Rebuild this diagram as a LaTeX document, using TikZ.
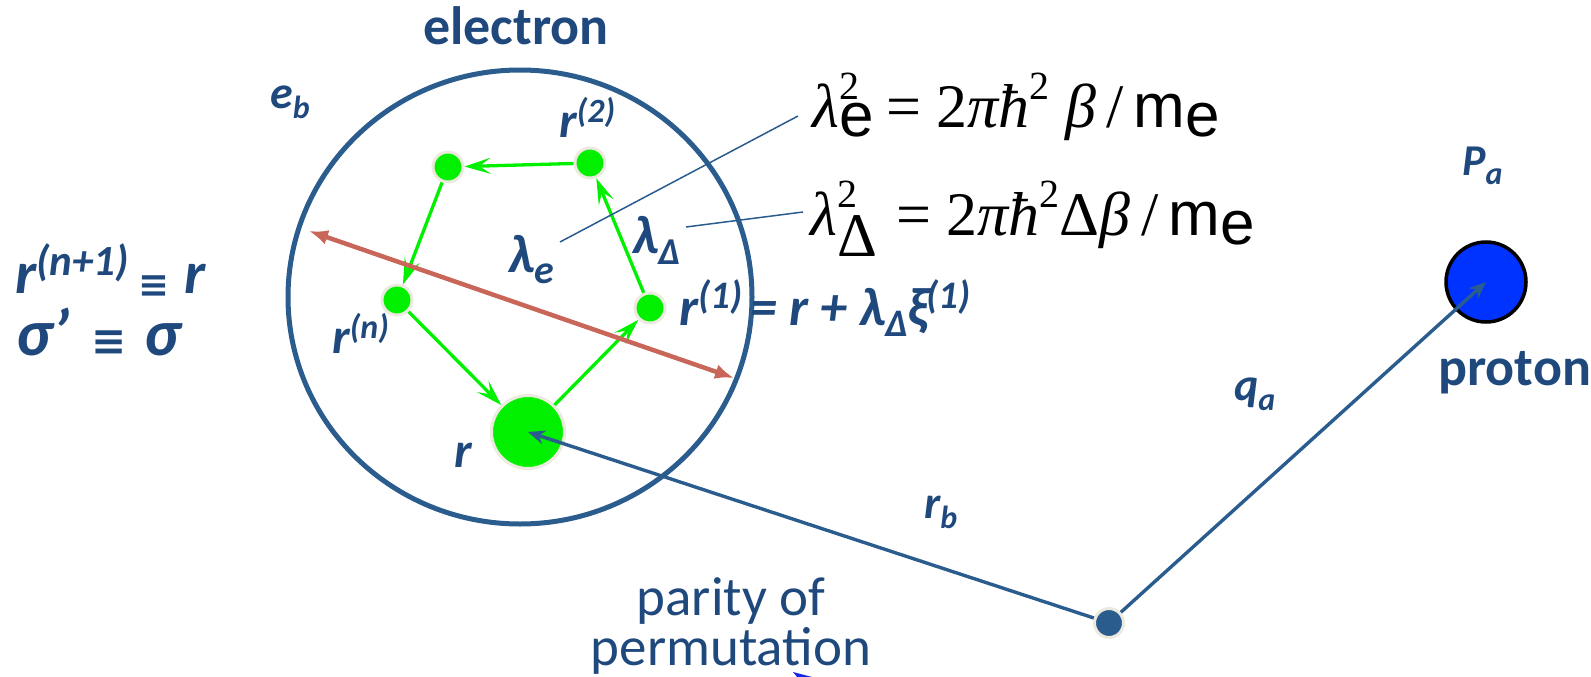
\documentclass[tikz,border=0pt]{standalone}
\usepackage{fontspec}
\setmainfont{Liberation Serif}
\newfontfamily\calib{Carlito}
\newfontfamily\arialf{Liberation Sans}
\newfontfamily\dejav{DejaVu Sans}
\usetikzlibrary{arrows.meta}

\definecolor{txtblue}{RGB}{31,73,125}
\definecolor{lineblue}{RGB}{42,92,142}
\definecolor{beadgreen}{RGB}{0,240,0}
\definecolor{halo}{RGB}{236,234,222}
\definecolor{diamred}{RGB}{201,102,90}
\definecolor{protblue}{RGB}{0,51,255}
\definecolor{slivblue}{RGB}{20,40,235}

% raised / lowered pieces of the labels
\newcommand\hi[2][37]{\raisebox{0.3em}{\fontsize{#1}{#1}\selectfont #2}}
\newcommand\lo[2][32]{\raisebox{-0.22em}{\fontsize{#1}{#1}\selectfont #2}}
\newcommand\eqv[1]{{\dejav\bfseries\upshape\fontsize{#1}{#1}\selectfont ≡}}
\newcommand\esup[1]{\raisebox{0.45em}{\fontsize{40}{40}\selectfont #1}}

\begin{document}
\begin{tikzpicture}[x=1pt, y=-1pt, >=Stealth,
    lbl/.style={text=txtblue, inner sep=0pt, anchor=base west,
        font=\calib\bfseries\itshape\fontsize{50}{58}\selectfont},
    title/.style={text=txtblue, inner sep=0pt, anchor=base west,
        font=\calib\bfseries\fontsize{54}{64}\selectfont},
    eqn/.style={inner sep=0pt, anchor=base west, font=\fontsize{62}{72}\selectfont},
    bead/.style={circle, fill=beadgreen, draw=halo, line width=3pt,
        minimum size=30pt, inner sep=0pt},
    beadarr/.style={beadgreen, line width=3.3pt,
        -{Stealth[length=26pt, width=16pt, inset=11pt]}},
    bluearr/.style={lineblue, line width=3.4pt, -{Stealth[length=17pt, width=14pt]}},
    pointer/.style={lineblue, line width=1.5pt}]

    \useasboundingbox (0,0) rectangle (1591,677);

    % --- electron cloud ---
    \node[title, anchor=base] (elec) at (516,45) {electron};
    \draw[lineblue, line width=5pt] (520,297) ellipse (232 and 227);
    \node[lbl, font=\calib\bfseries\itshape\fontsize{46}{52}\selectfont] (eb) at (270,108) {e\lo{b}};

    % --- polymer beads ---
    \node[bead, minimum size=73pt] (rr) at (528,432) {};
    \node[bead] (b1) at (650,308) {};
    \node[bead] (b2) at (590,163) {};
    \node[bead] (b3) at (448,167) {};
    \node[bead] (bn) at (397,300) {};

    \draw[beadarr] (b2) -- (b3);
    \draw[beadarr] (b3) -- (bn);
    \draw[beadarr] (bn) -- (rr);
    \draw[beadarr] (rr) -- (b1);
    \draw[beadarr] (b1) -- (b2);

    % --- thermal wavelength ---
    \coordinate (wl) at (309,231);
    \coordinate (wr) at (734,378);
    \draw[diamred, line width=4.5pt, {Latex[length=19pt, width=15pt]}-{Latex[length=19pt, width=15pt]}] (wl) -- (wr);

    % --- bead labels ---
    \node[lbl] (l2) at (559,137) {r\hi[34]{(2)}};
    \node[lbl, font=\calib\bfseries\itshape\fontsize{54}{60}\selectfont] (l1) at (679,325)
        {r\hi[39]{(1)}\hspace{8pt}= r + λ\lo[39]{Δ}\hspace{-1pt}ξ\hspace{-2pt}\hi[39]{(1)}};
    \node[lbl] (ln) at (332,353) {r\hi[34]{(n)}};
    \node[lbl] (lr) at (454,467) {r};
    \node[lbl, font=\calib\bfseries\itshape\fontsize{54}{60}\selectfont] (lame) at (508,272) {λ\lo[40]{e}};
    \node[lbl, font=\calib\bfseries\itshape\fontsize{54}{60}\selectfont] (lamd) at (632,253) {λ\lo[38]{Δ}};

    % --- closing of the path ---
    \node[lbl, font=\calib\bfseries\itshape\fontsize{60}{70}\selectfont] (cl1) at (15,293)
        {r\hi[43]{(n+1)}\hspace{10pt}\raisebox{-4pt}{\eqv{37}}\hspace{14pt}r};
    \node[lbl, font=\calib\bfseries\itshape\fontsize{66}{74}\selectfont] (cl2) at (16,355)
        {σ’\hspace{22pt}\eqv{42}\hspace{18pt}σ};

    % --- wavelength formulas ---
    \node[eqn] (eqe) at (812,127)
        {\textit{λ}\makebox[0pt][l]{\esup{2}}\raisebox{-0.15em}{\arialf e}\hspace{-3pt} = 2\textit{πħ}\esup{2} \textit{β}\,/\,{\arialf m\raisebox{-0.15em}{e}}};
    \node[eqn] (eqd) at (810,235)
        {\textit{λ}\makebox[0pt][l]{\esup{2}}\raisebox{-0.35em}{Δ}\hspace{4pt} = 2\textit{πħ}\esup{2}Δ\textit{β}\,/\,{\arialf m\raisebox{-0.15em}{e}}};
    \coordinate (pe1) at (560,242);
    \coordinate (pe2) at (798,116);
    \coordinate (pd1) at (686,227);
    \coordinate (pd2) at (803,212);
    \draw[pointer] (pe1) -- (pe2);
    \draw[pointer] (pd1) -- (pd2);

    % --- proton and coordinates ---
    \node[circle, fill=protblue, draw=black, line width=3.5pt, minimum size=80pt, inner sep=0pt] (prot) at (1486,282) {};
    \node[circle, fill=lineblue, draw=halo, line width=3pt, minimum size=29pt, inner sep=0pt] (orig) at (1109,623) {};
    \draw[bluearr] (orig) -- (rr.center);
    \draw[bluearr] (orig) -- (prot.center);

    \node[lbl, font=\calib\bfseries\itshape\fontsize{44}{50}\selectfont] (pa) at (1462,175) {P\lo{a}};
    \node[title] (ptxt) at (1438,385) {proton};
    \node[lbl, font=\calib\bfseries\itshape\fontsize{46}{52}\selectfont] (qa) at (1234,400) {q\lo{a}};
    \node[lbl, font=\calib\bfseries\itshape\fontsize{46}{52}\selectfont] (rb) at (924,518) {r\lo{b}};

    % --- parity ---
    \node[text=txtblue, inner sep=0pt, anchor=base, font=\calib\fontsize{55}{64}\selectfont] (par1) at (731,615) {parity of};
    \node[text=txtblue, inner sep=0pt, anchor=base, font=\calib\fontsize{55}{64}\selectfont] (par2) at (731,665) {permutation};
    \fill[slivblue] (793,672) -- (812,677) -- (797,677) -- cycle;
\end{tikzpicture}
\end{document}
